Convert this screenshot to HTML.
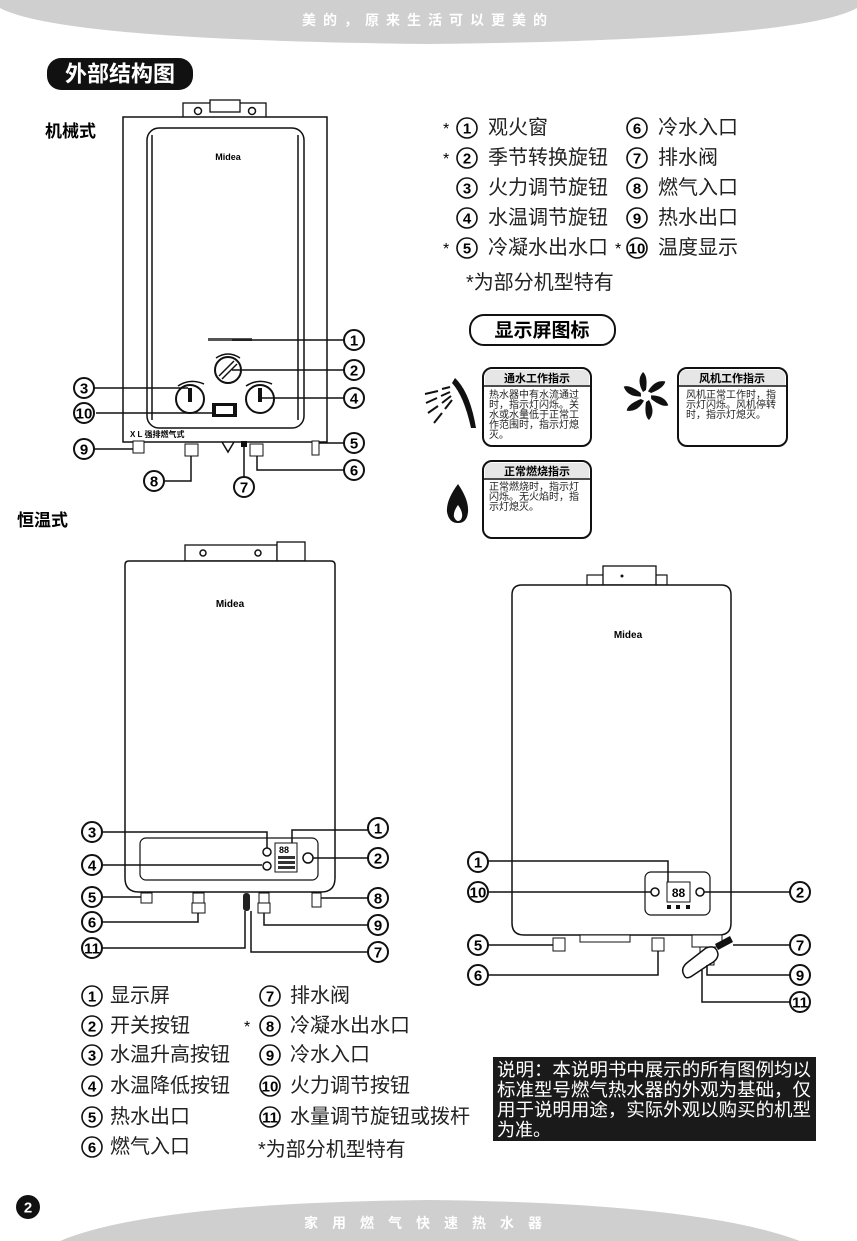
<!DOCTYPE html>
<html><head><meta charset="utf-8"><style>
html,body{margin:0;padding:0;background:#fff}
svg{display:block}
text{font-family:"Liberation Sans","Noto Sans CJK SC",sans-serif}
.n{font-weight:bold;font-size:15px;text-anchor:middle;dominant-baseline:central}
.c{fill:#fff;stroke:#111;stroke-width:2}
.l{stroke:#111;stroke-width:1.5;fill:none}
.t{font-size:20px;fill:#222;dominant-baseline:central}
.s{font-size:10px;fill:#222}
</style></head><body>
<svg width="857" height="1241" viewBox="0 0 857 1241" xmlns="http://www.w3.org/2000/svg">
<!-- header -->
<path d="M0,0 H857 V8 Q800,40 428,44 Q60,40 0,8 Z" fill="#cfcfcf"/>
<text x="428" y="25" font-size="14" fill="#fff" text-anchor="middle" letter-spacing="7" font-weight="bold">美的，原来生活可以更美的</text>
<!-- footer -->
<path d="M60,1241 Q150,1203 428,1200 Q700,1203 800,1241 Z" fill="#cfcfcf"/>
<text x="430" y="1228" font-size="14" fill="#fff" text-anchor="middle" letter-spacing="14" font-weight="bold">家用燃气快速热水器</text>
<circle cx="28" cy="1207" r="12" fill="#111"/>
<text x="28" y="1208" class="n" fill="#fff" font-size="16">2</text>

<!-- title pill -->
<rect x="47" y="58" width="146" height="32" rx="14" fill="#111"/>
<text x="120" y="74" font-size="22" font-weight="bold" fill="#fff" text-anchor="middle" dominant-baseline="central">外部结构图</text>
<text x="45" y="137" font-size="17" font-weight="bold">机械式</text>
<text x="17" y="526" font-size="17" font-weight="bold">恒温式</text>

<!-- mechanical heater -->
<rect x="183" y="103" width="83" height="15" fill="#fff" stroke="#111" stroke-width="1.3"/>
<circle cx="198" cy="111" r="3.5" class="l" stroke-width="1"/><circle cx="252" cy="111" r="3.5" class="l" stroke-width="1"/>
<rect x="210" y="100" width="30" height="12" fill="#fff" stroke="#111" stroke-width="1.3"/>
<rect x="123" y="117" width="204" height="325" fill="#fff" stroke="#111" stroke-width="1.5"/>
<rect x="147" y="128" width="157" height="300" rx="12" fill="none" stroke="#111" stroke-width="1.5"/>
<line x1="152" y1="135" x2="152" y2="420" class="l" stroke-width="2.5"/>
<line x1="298" y1="135" x2="298" y2="420" class="l" stroke-width="2.5"/>
<text x="228" y="160" font-size="9" font-weight="bold" text-anchor="middle">Midea</text>
<rect x="208" y="338" width="44" height="3" fill="#555"/>
<path d="M216,358 Q228,350 240,358" class="l"/>
<circle cx="228" cy="370" r="13" class="c"/><path d="M219,376 L234,361 M222,379 L237,364" class="l"/>
<path d="M178,386 Q190,378 204,384" class="l" stroke-width="2"/>
<path d="M246,386 Q258,378 272,384" class="l" stroke-width="2"/>
<circle cx="190" cy="399" r="14" class="c"/><rect x="188" y="388" width="4" height="14" fill="#111"/>
<circle cx="260" cy="399" r="14" class="c"/><rect x="258" y="388" width="4" height="14" fill="#111"/>
<rect x="212" y="403" width="25" height="14" fill="#111"/><rect x="216" y="406" width="17" height="8" fill="#fff"/>
<text x="130" y="437" font-size="8" font-weight="bold">X L 强排燃气式</text>
<rect x="133" y="441" width="11" height="12" fill="#fff" stroke="#111"/>
<rect x="185" y="444" width="13" height="12" fill="#fff" stroke="#111"/>
<rect x="250" y="444" width="13" height="12" fill="#fff" stroke="#111"/>
<rect x="241" y="441" width="6" height="6" fill="#111"/>
<path d="M222,442 L228,452 L234,442" class="l" stroke-width="1"/>
<rect x="312" y="441" width="7" height="14" fill="#fff" stroke="#111"/>
<path d="M232,340 H344 M232,370 H344 M94,388 H188 M96,413 H212 M262,398 H344 M94,449 H133 M319,443 H344 M257,456 V470 H344 M244,447 V477 M191,456 V481 H164" class="l"/>
<g>
<circle cx="354" cy="340" r="10" class="c"/><text x="354" y="341" class="n">1</text>
<circle cx="354" cy="370" r="10" class="c"/><text x="354" y="371" class="n">2</text>
<circle cx="354" cy="398" r="10" class="c"/><text x="354" y="399" class="n">4</text>
<circle cx="84" cy="388" r="10" class="c"/><text x="84" y="389" class="n">3</text>
<circle cx="84" cy="413" r="10" class="c"/><text x="84" y="414" class="n" font-size="13">10</text>
<circle cx="84" cy="449" r="10" class="c"/><text x="84" y="450" class="n">9</text>
<circle cx="354" cy="443" r="10" class="c"/><text x="354" y="444" class="n">5</text>
<circle cx="354" cy="470" r="10" class="c"/><text x="354" y="471" class="n">6</text>
<circle cx="244" cy="487" r="10" class="c"/><text x="244" y="488" class="n">7</text>
<circle cx="154" cy="481" r="10" class="c"/><text x="154" y="482" class="n">8</text>
</g>

<!-- legend top -->
<g stroke="#111" stroke-width="1.6" fill="#fff">
<circle cx="467" cy="128" r="10"/><circle cx="467" cy="158" r="10"/><circle cx="467" cy="188" r="10"/><circle cx="467" cy="218" r="10"/><circle cx="467" cy="248" r="10"/>
<circle cx="637" cy="128" r="10"/><circle cx="637" cy="158" r="10"/><circle cx="637" cy="188" r="10"/><circle cx="637" cy="218" r="10"/><circle cx="637" cy="248" r="10"/>
</g>
<text x="467" y="129" class="n">1</text><text x="467" y="159" class="n">2</text><text x="467" y="189" class="n">3</text><text x="467" y="219" class="n">4</text><text x="467" y="249" class="n">5</text>
<text x="637" y="129" class="n">6</text><text x="637" y="159" class="n">7</text><text x="637" y="189" class="n">8</text><text x="637" y="219" class="n">9</text><text x="637" y="249" class="n" font-size="13">10</text>
<text x="443" y="134" font-size="16">*</text><text x="443" y="164" font-size="16">*</text><text x="443" y="254" font-size="16">*</text><text x="615" y="254" font-size="16">*</text>
<text x="488" y="128" class="t">观火窗</text>
<text x="488" y="158" class="t">季节转换旋钮</text>
<text x="488" y="188" class="t">火力调节旋钮</text>
<text x="488" y="218" class="t">水温调节旋钮</text>
<text x="488" y="248" class="t">冷凝水出水口</text>
<text x="658" y="128" class="t">冷水入口</text>
<text x="658" y="158" class="t">排水阀</text>
<text x="658" y="188" class="t">燃气入口</text>
<text x="658" y="218" class="t">热水出口</text>
<text x="658" y="248" class="t">温度显示</text>
<text x="466" y="283" class="t" font-size="17">*为部分机型特有</text>

<!-- display icons title -->
<rect x="470" y="315" width="145" height="30" rx="14" fill="#fff" stroke="#111" stroke-width="2"/>
<text x="542" y="331" font-size="19" font-weight="bold" text-anchor="middle" dominant-baseline="central">显示屏图标</text>

<g stroke="#111" stroke-width="2">
<rect x="483" y="368" width="108" height="78" rx="9" fill="#fff"/>
<rect x="678" y="368" width="109" height="78" rx="9" fill="#fff"/>
<rect x="483" y="461" width="108" height="77" rx="9" fill="#fff"/>
</g>
<path d="M485,385 V377 Q485,370 492,370 H582 Q589,370 589,377 V385 Z" fill="#e6e6e6"/>
<path d="M680,385 V377 Q680,370 687,370 H778 Q785,370 785,377 V385 Z" fill="#e6e6e6"/>
<path d="M485,478 V470 Q485,463 492,463 H582 Q589,463 589,470 V478 Z" fill="#e6e6e6"/>
<line x1="484" y1="386" x2="590" y2="386" class="l"/>
<line x1="679" y1="386" x2="786" y2="386" class="l"/>
<line x1="484" y1="479" x2="590" y2="479" class="l"/>
<text x="537" y="382" font-size="11" font-weight="bold" text-anchor="middle">通水工作指示</text>
<text x="732" y="382" font-size="11" font-weight="bold" text-anchor="middle">风机工作指示</text>
<text x="537" y="475" font-size="11" font-weight="bold" text-anchor="middle">正常燃烧指示</text>
<g class="s">
<text x="489" y="398">热水器中有水流通过</text><text x="489" y="408">时，指示灯闪烁。关</text><text x="489" y="418">水或水量低于正常工</text><text x="489" y="428">作范围时，指示灯熄</text><text x="489" y="438">灭。</text>
<text x="686" y="398">风机正常工作时，指</text><text x="686" y="408">示灯闪烁。风机停转</text><text x="686" y="418">时，指示灯熄灭。</text>
<text x="489" y="490">正常燃烧时，指示灯</text><text x="489" y="500">闪烁。无火焰时，指</text><text x="489" y="510">示灯熄灭。</text>
</g>
<path d="M455,378 Q470,392 476,428 L471,428 Q464,396 452,383 Z" fill="#111"/>
<g stroke="#111" stroke-width="2">
<line x1="425" y1="394" x2="438" y2="391"/><line x1="442" y1="389" x2="450" y2="387"/>
<line x1="426" y1="403" x2="437" y2="398"/><line x1="441" y1="396" x2="450" y2="392"/>
<line x1="428" y1="413" x2="438" y2="406"/><line x1="442" y1="403" x2="451" y2="396"/>
<line x1="434" y1="423" x2="442" y2="413"/><line x1="445" y1="409" x2="452" y2="400"/>
</g>
<g fill="#111" transform="translate(646,396)">
<path d="M-3,-4 Q-10,-16 -3,-24 Q2,-20 0,-6Z"/>
<path d="M-3,-4 Q-10,-16 -3,-24 Q2,-20 0,-6Z" transform="rotate(60)"/>
<path d="M-3,-4 Q-10,-16 -3,-24 Q2,-20 0,-6Z" transform="rotate(120)"/>
<path d="M-3,-4 Q-10,-16 -3,-24 Q2,-20 0,-6Z" transform="rotate(180)"/>
<path d="M-3,-4 Q-10,-16 -3,-24 Q2,-20 0,-6Z" transform="rotate(240)"/>
<path d="M-3,-4 Q-10,-16 -3,-24 Q2,-20 0,-6Z" transform="rotate(300)"/>
</g>
<path d="M458,484 Q446,500 447,512 Q449,523 458,523 Q467,523 468,512 Q469,500 458,484 Z" fill="#111"/>
<path d="M458,505 Q453,512 454,517 Q456,521 458,521 Q461,521 462,517 Q463,512 458,505Z" fill="#fff"/>

<!-- thermostatic left heater -->
<rect x="185" y="545" width="92" height="16" fill="#fff" stroke="#111" stroke-width="1.3"/>
<rect x="277" y="542" width="28" height="19" fill="#fff" stroke="#111" stroke-width="1.3"/>
<circle cx="203" cy="553" r="3" class="l" stroke-width="1"/><circle cx="258" cy="553" r="3" class="l" stroke-width="1"/>
<path d="M125,565 Q125,561 129,561 H331 Q335,561 335,565 V878 Q335,892 321,892 H139 Q125,892 125,878 Z" fill="#fff" stroke="#111" stroke-width="1.5"/>
<text x="230" y="607" font-size="10" font-weight="bold" text-anchor="middle">Midea</text>
<rect x="140" y="838" width="178" height="42" rx="6" fill="none" stroke="#111" stroke-width="1.2"/>
<rect x="275" y="843" width="22" height="29" fill="#fff" stroke="#111"/>
<text x="279" y="853" font-size="9" font-weight="bold">88</text>
<rect x="278" y="856" width="17" height="3" fill="#333"/><rect x="278" y="861" width="17" height="3" fill="#333"/><rect x="278" y="866" width="17" height="3" fill="#333"/>
<circle cx="267" cy="852" r="4" class="l" stroke-width="1"/><circle cx="267" cy="866" r="4" class="l" stroke-width="1"/>
<circle cx="308" cy="858" r="5" class="l" stroke-width="1"/>
<rect x="141" y="893" width="11" height="10" fill="#fff" stroke="#111"/>
<rect x="192" y="903" width="13" height="10" fill="#fff" stroke="#111"/><rect x="193" y="893" width="11" height="10" fill="#fff" stroke="#111"/>
<rect x="258" y="903" width="12" height="10" fill="#fff" stroke="#111"/><rect x="259" y="893" width="10" height="10" fill="#fff" stroke="#111"/>
<rect x="243" y="893" width="7" height="18" rx="3" fill="#222"/>
<rect x="312" y="893" width="9" height="14" fill="#fff" stroke="#111"/>
<path d="M102,832 H267 V848 M292,843 V830 H368 M313,858 H368 M102,865 H262 M102,897 H141 M102,922 H198 V913 M102,948 H245 V911 M368,952 H251 V911 M368,925 H264 V913 M368,898 H321" class="l"/>
<g>
<circle cx="378" cy="828" r="10" class="c"/><text x="378" y="829" class="n">1</text>
<circle cx="378" cy="858" r="10" class="c"/><text x="378" y="859" class="n">2</text>
<circle cx="92" cy="832" r="10" class="c"/><text x="92" y="833" class="n">3</text>
<circle cx="92" cy="865" r="10" class="c"/><text x="92" y="866" class="n">4</text>
<circle cx="92" cy="897" r="10" class="c"/><text x="92" y="898" class="n">5</text>
<circle cx="92" cy="922" r="10" class="c"/><text x="92" y="923" class="n">6</text>
<circle cx="92" cy="948" r="10" class="c"/><text x="92" y="949" class="n" font-size="13">11</text>
<circle cx="378" cy="898" r="10" class="c"/><text x="378" y="899" class="n">8</text>
<circle cx="378" cy="925" r="10" class="c"/><text x="378" y="926" class="n">9</text>
<circle cx="378" cy="952" r="10" class="c"/><text x="378" y="953" class="n">7</text>
</g>

<!-- bottom left legend -->
<g stroke="#111" stroke-width="1.6" fill="#fff">
<circle cx="92" cy="996" r="10"/><circle cx="92" cy="1026" r="10"/><circle cx="92" cy="1055" r="10"/><circle cx="92" cy="1086" r="10"/><circle cx="92" cy="1117" r="10"/><circle cx="92" cy="1147" r="10"/>
<circle cx="270" cy="996" r="10"/><circle cx="270" cy="1026" r="10"/><circle cx="270" cy="1055" r="10"/><circle cx="270" cy="1086" r="10"/><circle cx="270" cy="1117" r="10"/>
</g>
<text x="92" y="997" class="n">1</text><text x="92" y="1027" class="n">2</text><text x="92" y="1056" class="n">3</text><text x="92" y="1087" class="n">4</text><text x="92" y="1118" class="n">5</text><text x="92" y="1148" class="n">6</text>
<text x="270" y="997" class="n">7</text><text x="270" y="1027" class="n">8</text><text x="270" y="1056" class="n">9</text><text x="270" y="1087" class="n" font-size="13">10</text><text x="270" y="1118" class="n" font-size="13">11</text>
<text x="244" y="1032" font-size="16">*</text>
<text x="110" y="996" class="t">显示屏</text>
<text x="110" y="1026" class="t">开关按钮</text>
<text x="110" y="1055" class="t">水温升高按钮</text>
<text x="110" y="1086" class="t">水温降低按钮</text>
<text x="110" y="1117" class="t">热水出口</text>
<text x="110" y="1147" class="t">燃气入口</text>
<text x="290" y="996" class="t">排水阀</text>
<text x="290" y="1026" class="t">冷凝水出水口</text>
<text x="290" y="1055" class="t">冷水入口</text>
<text x="290" y="1086" class="t">火力调节按钮</text>
<text x="290" y="1117" class="t">水量调节旋钮或拨杆</text>
<text x="258" y="1150" class="t" font-size="17">*为部分机型特有</text>

<!-- right heater -->
<rect x="587" y="575" width="80" height="10" fill="#fff" stroke="#111" stroke-width="1.2"/>
<rect x="603" y="566" width="53" height="19" fill="#fff" stroke="#111" stroke-width="1.3"/>
<circle cx="622" cy="576" r="1.5" fill="#111"/>
<path d="M512,595 Q512,585 522,585 H721 Q731,585 731,595 V923 Q731,935 719,935 H524 Q512,935 512,923 Z" fill="#fff" stroke="#111" stroke-width="1.5"/>
<text x="628" y="638" font-size="10" font-weight="bold" text-anchor="middle">Midea</text>
<rect x="645" y="872" width="65" height="43" rx="6" fill="none" stroke="#111" stroke-width="1.2"/>
<rect x="667" y="882" width="23" height="20" fill="#fff" stroke="#111"/>
<text x="678.5" y="897" font-size="12" font-weight="bold" text-anchor="middle">88</text>
<rect x="667" y="905" width="4" height="4" fill="#111"/><rect x="676" y="905" width="4" height="4" fill="#111"/><rect x="686" y="905" width="4" height="4" fill="#111"/>
<circle cx="655" cy="892" r="4" class="l" stroke-width="1"/><circle cx="700" cy="892" r="4" class="l" stroke-width="1"/>
<rect x="580" y="935" width="50" height="7" fill="#fff" stroke="#111"/>
<rect x="553" y="938" width="12" height="13" fill="#fff" stroke="#111"/>
<rect x="652" y="938" width="12" height="13" fill="#fff" stroke="#111"/>
<rect x="692" y="935" width="30" height="12" fill="#fff" stroke="#111"/>
<rect x="700" y="947" width="14" height="18" fill="#fff" stroke="#111"/>
<path d="M715,944 L730,936 L733,942 L718,950 Z" fill="#111"/>
<path d="M684,975 Q680,968 688,962 L706,948 Q716,944 718,954 Q718,960 710,964 L692,976 Q686,980 684,975 Z" fill="#fff" stroke="#111" stroke-width="1.5"/>
<path d="M488,861 H668 V882 M488,892 H651 M790,892 H704 M488,945 H553 M488,975 H658 V951 M790,945 H733 M790,975 H707 V965 M790,1002 H702 V970" class="l"/>
<g>
<circle cx="478" cy="862" r="10" class="c"/><text x="478" y="863" class="n">1</text>
<circle cx="478" cy="892" r="10" class="c"/><text x="478" y="893" class="n" font-size="13">10</text>
<circle cx="478" cy="945" r="10" class="c"/><text x="478" y="946" class="n">5</text>
<circle cx="478" cy="975" r="10" class="c"/><text x="478" y="976" class="n">6</text>
<circle cx="800" cy="892" r="10" class="c"/><text x="800" y="893" class="n">2</text>
<circle cx="800" cy="945" r="10" class="c"/><text x="800" y="946" class="n">7</text>
<circle cx="800" cy="975" r="10" class="c"/><text x="800" y="976" class="n">9</text>
<circle cx="800" cy="1002" r="10" class="c"/><text x="800" y="1003" class="n" font-size="13">11</text>
</g>

<!-- note box -->
<rect x="493" y="1057" width="323" height="84" fill="#1a1a1a"/>
<g font-size="18" fill="#fff">
<text x="497" y="1076" textLength="314" lengthAdjust="spacingAndGlyphs">说明：本说明书中展示的所有图例均以</text>
<text x="497" y="1096" textLength="314" lengthAdjust="spacingAndGlyphs">标准型号燃气热水器的外观为基础，仅</text>
<text x="497" y="1116" textLength="314" lengthAdjust="spacingAndGlyphs">用于说明用途，实际外观以购买的机型</text>
<text x="497" y="1136">为准。</text>
</g>
</svg>
</body></html>
